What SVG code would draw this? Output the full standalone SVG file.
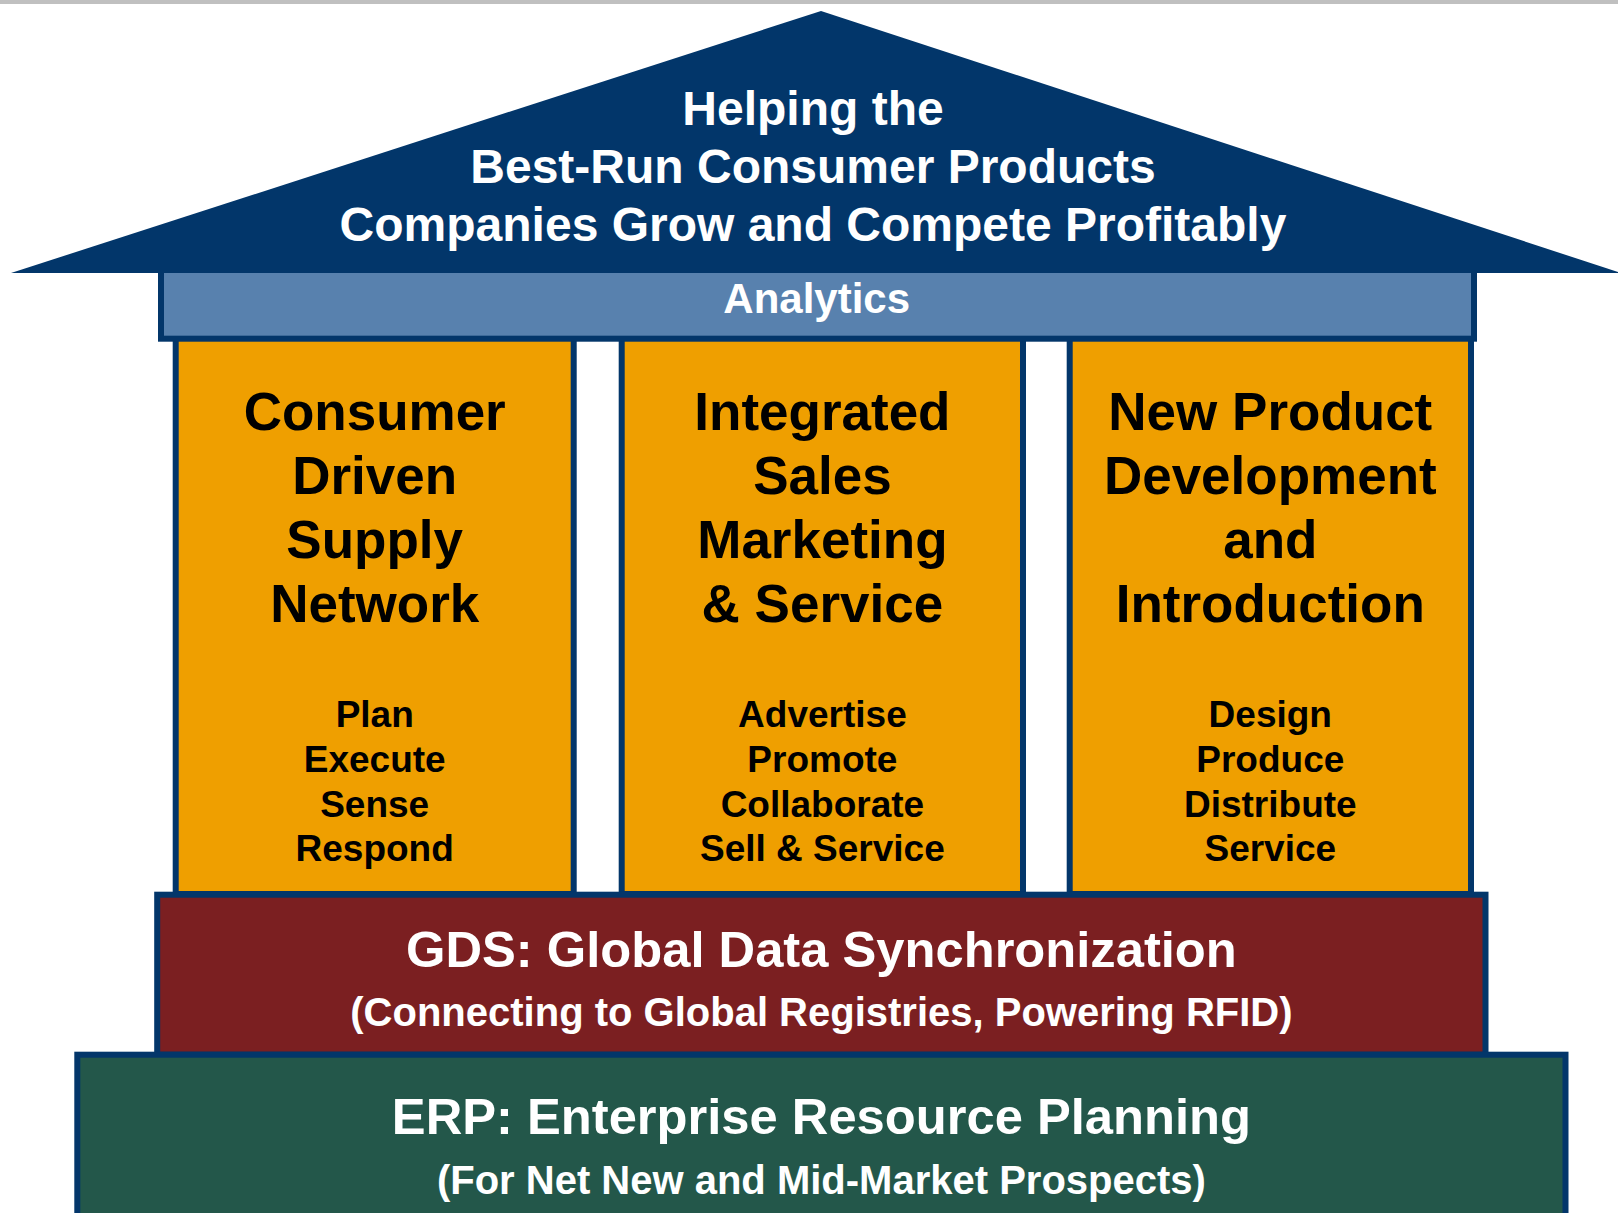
<svg xmlns="http://www.w3.org/2000/svg" width="1618" height="1213" viewBox="0 0 1618 1213">
<style>
  .box { stroke: #03366A; stroke-width: 6; }
  .pillar { fill: #EF9F00; }
  .t { font-family: "Liberation Sans", Arial, sans-serif; font-weight: bold; text-anchor: middle; }
  .w { fill: #FFFFFF; }
  .k { fill: #000000; }
  .h { font-size: 53px; }
  .s { font-size: 37px; }
</style>
<rect x="0" y="0" width="1618" height="1213" fill="#FFFFFF"/>
<rect x="0" y="0" width="1618" height="4" fill="#C0C0C0"/>

<g id="pillar-supply">
  <rect class="box pillar" x="175.7" y="338" width="398" height="556"/>
  <text class="t k h" x="374.7"><tspan x="374.7" y="430">Consumer</tspan><tspan x="374.7" y="494">Driven</tspan><tspan x="374.7" y="558">Supply</tspan><tspan x="374.7" y="622">Network</tspan></text>
  <text class="t k s"><tspan x="374.7" y="727">Plan</tspan><tspan x="374.7" y="772">Execute</tspan><tspan x="374.7" y="817">Sense</tspan><tspan x="374.7" y="861">Respond</tspan></text>
</g>

<g id="pillar-sales">
  <rect class="box pillar" x="621.7" y="338" width="401.3" height="556"/>
  <text class="t k h"><tspan x="822.4" y="430">Integrated</tspan><tspan x="822.4" y="494">Sales</tspan><tspan x="822.4" y="558">Marketing</tspan><tspan x="822.4" y="622">&amp; Service</tspan></text>
  <text class="t k s"><tspan x="822.4" y="727">Advertise</tspan><tspan x="822.4" y="772">Promote</tspan><tspan x="822.4" y="817">Collaborate</tspan><tspan x="822.4" y="861">Sell &amp; Service</tspan></text>
</g>

<g id="pillar-npdi">
  <rect class="box pillar" x="1069.7" y="338" width="401.3" height="556"/>
  <text class="t k h"><tspan x="1270.3" y="430">New Product</tspan><tspan x="1270.3" y="494">Development</tspan><tspan x="1270.3" y="558">and</tspan><tspan x="1270.3" y="622">Introduction</tspan></text>
  <text class="t k s"><tspan x="1270.3" y="727">Design</tspan><tspan x="1270.3" y="772">Produce</tspan><tspan x="1270.3" y="817">Distribute</tspan><tspan x="1270.3" y="861">Service</tspan></text>
</g>

<g id="analytics">
  <rect class="box" x="161" y="270" width="1313" height="68.7" fill="#5881AE"/>
  <text class="t w" x="816.7" y="312.7" font-size="42">Analytics</text>
</g>

<g id="roof">
  <polygon points="11,273 821,11 1618,272 1618,273" fill="#02366A"/>
  <text class="t w" font-size="48"><tspan x="813" y="125">Helping the</tspan><tspan x="813" y="183">Best-Run Consumer Products</tspan><tspan x="813" y="241">Companies Grow and Compete Profitably</tspan></text>
</g>

<g id="gds">
  <rect class="box" x="157.2" y="894.7" width="1328.3" height="160" fill="#7B1F21"/>
  <text class="t w" x="821.4" y="967" font-size="50.7">GDS: Global Data Synchronization</text>
  <text class="t w" x="821.4" y="1026" font-size="40">(Connecting to Global Registries, Powering RFID)</text>
</g>

<g id="erp">
  <rect class="box" x="77.3" y="1054.7" width="1488.2" height="200" fill="#23574A"/>
  <text class="t w" x="821.4" y="1134" font-size="50.7">ERP: Enterprise Resource Planning</text>
  <text class="t w" x="821.4" y="1194" font-size="40">(For Net New and Mid-Market Prospects)</text>
</g>

<g id="connectors"/>
</svg>
